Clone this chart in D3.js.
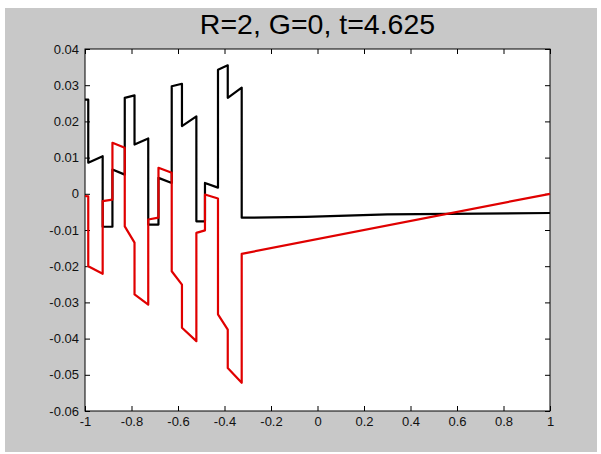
<!DOCTYPE html>
<html>
<head>
<meta charset="utf-8">
<script src="https://cdn.jsdelivr.net/npm/d3@7"></script>
<style>
  body { margin: 0; background: #fff; }
  text { font-family: "Liberation Sans", Arial, sans-serif; }
</style>
</head>
<body>
<script>
// ticks
var xTicks = [-1, -0.8, -0.6, -0.4, -0.2, 0, 0.2, 0.4, 0.6, 0.8, 1];
var yTicks = [0.04, 0.03, 0.02, 0.01, 0, -0.01, -0.02, -0.03, -0.04, -0.05, -0.06];

// black curve
var blackX = [-1, -0.986, -0.986, -0.924, -0.924, -0.882, -0.882, -0.829, -0.829, -0.787, -0.787, -0.728, -0.728, -0.684, -0.684, -0.627, -0.627, -0.583, -0.583, -0.521, -0.521, -0.484, -0.484, -0.428, -0.428, -0.386, -0.386, -0.326, -0.326, -0.05, 0.3, 1];
var blackY = [0.026, 0.026, 0.0086, 0.0104, -0.0091, -0.0091, 0.0067, 0.0053, 0.0265, 0.0272, 0.0136, 0.0153, -0.0085, -0.0085, 0.0044, 0.003, 0.0297, 0.0304, 0.0187, 0.0214, -0.0076, -0.0076, 0.003, 0.0017, 0.0343, 0.0355, 0.0265, 0.0293, -0.0066, -0.0064, -0.0057, -0.0053];

// red curve
var redX = [-1, -0.986, -0.986, -0.924, -0.924, -0.882, -0.882, -0.829, -0.829, -0.787, -0.787, -0.728, -0.728, -0.684, -0.684, -0.627, -0.627, -0.583, -0.583, -0.521, -0.521, -0.484, -0.484, -0.428, -0.428, -0.386, -0.386, -0.326, -0.326, 1];
var redY = [-0.0006, -0.0007, -0.02, -0.0221, -0.002, -0.0016, 0.0141, 0.0127, -0.009, -0.0135, -0.0278, -0.0306, -0.0071, -0.0066, 0.0072, 0.0058, -0.0214, -0.0251, -0.037, -0.0407, -0.0108, -0.0101, -0.0002, -0.0013, -0.0333, -0.0375, -0.0481, -0.0522, -0.0166, 0];

var W = 601, H = 454;
var margin = {left: 85, right: 51, top: 49, bottom: 43};
var width = W - margin.left - margin.right,
    height = H - margin.top - margin.bottom;

var svg = d3.select("body").append("svg")
    .attr("width", W)
    .attr("height", H);

// figure background
svg.append("rect")
    .attr("x", 5).attr("y", 8)
    .attr("width", 592).attr("height", 444)
    .attr("fill", "#c8c8c8");

var g = svg.append("g")
    .attr("transform", "translate(" + margin.left + "," + margin.top + ")");

var x = d3.scaleLinear().domain([-1, 1]).range([0, width]);
var y = d3.scaleLinear().domain([-0.06, 0.04]).range([height, 0]);

g.append("rect")
    .attr("width", width).attr("height", height)
    .attr("fill", "#fff");

var fmt = function (d) { return String(d); };

function styleAxis(sel) {
    sel.select(".domain").remove();
    sel.selectAll(".tick line").attr("stroke", "#000");
    sel.selectAll(".tick text")
        .attr("fill", "#111")
        .style("font-size", "13px");
}

g.append("g")
    .attr("transform", "translate(0," + height + ")")
    .call(d3.axisBottom(x).tickValues(xTicks).tickFormat(fmt).tickSizeInner(-5).tickSizeOuter(0).tickPadding(6))
    .call(styleAxis);

g.append("g")
    .call(d3.axisTop(x).tickValues(xTicks).tickFormat("").tickSizeInner(-5).tickSizeOuter(0))
    .call(styleAxis);

g.append("g")
    .call(d3.axisLeft(y).tickValues(yTicks).tickFormat(fmt).tickSizeInner(-5).tickSizeOuter(0).tickPadding(6))
    .call(styleAxis);

g.append("g")
    .attr("transform", "translate(" + width + ",0)")
    .call(d3.axisRight(y).tickValues(yTicks).tickFormat("").tickSizeInner(-5).tickSizeOuter(0))
    .call(styleAxis);

// box
g.append("rect")
    .attr("width", width).attr("height", height)
    .attr("fill", "none")
    .attr("stroke", "#000")
    .attr("stroke-width", 1);

var line = d3.line()
    .x(function (d) { return x(d[0]); })
    .y(function (d) { return y(d[1]); });

var black = d3.zip(blackX, blackY);
var red = d3.zip(redX, redY);

g.append("path")
    .datum(black)
    .attr("d", line)
    .attr("fill", "none")
    .attr("stroke", "#000")
    .attr("stroke-width", 2.2)
    .attr("stroke-linejoin", "round");

g.append("path")
    .datum(red)
    .attr("d", line)
    .attr("fill", "none")
    .attr("stroke", "#e00000")
    .attr("stroke-width", 2.2)
    .attr("stroke-linejoin", "round");

// title
svg.append("text")
    .attr("x", margin.left + width / 2)
    .attr("y", 34)
    .attr("text-anchor", "middle")
    .style("font-size", "28.5px")
    .attr("fill", "#000")
    .text("R=2, G=0, t=4.625");
</script>
</body>
</html>
